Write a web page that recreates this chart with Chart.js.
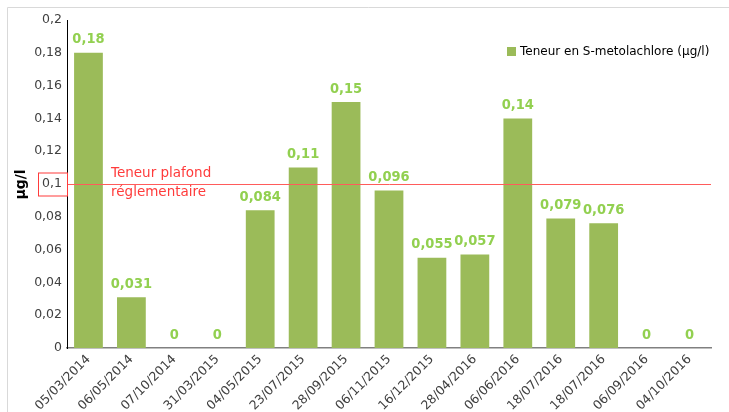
<!DOCTYPE html>
<html><head><meta charset="utf-8">
<script src="https://cdn.jsdelivr.net/npm/chart.js@4"></script>
<style>html,body{margin:0;padding:0;background:#fff;}#wrap{width:729px;height:412px;position:relative;}</style>
</head><body><div id="wrap"><canvas id="c" width="729" height="412"></canvas></div>
<script>
const categories = ["05/03/2014","06/05/2014","07/10/2014","31/03/2015","04/05/2015","23/07/2015","28/09/2015","06/11/2015","16/12/2015","28/04/2016","06/06/2016","18/07/2016","18/07/2016","06/09/2016","04/10/2016"];
const values = [0.18,0.031,0,0,0.084,0.11,0.15,0.096,0.055,0.057,0.14,0.079,0.076,0,0];
const seriesName = "Teneur en S-metolachlore (µg/l)";
const limitValue = 0.1;
const limitLabel = ["Teneur plafond","réglementaire"];
const yTitle = "µg/l";

const FONT = "DejaVu Sans, Verdana, sans-serif";
const FONT_C = "'DejaVu Sans Condensed', 'DejaVu Sans', sans-serif";
const fmt = v => String(v).replace('.', ',');

const overlay = {
  id: 'overlay',
  afterDatasetsDraw(chart) {
    const ctx = chart.ctx, x = chart.scales.x, y = chart.scales.y, a = chart.chartArea;
    ctx.save();
    // border
    ctx.strokeStyle = '#d9d9d9'; ctx.lineWidth = 1;
    ctx.beginPath(); ctx.moveTo(7.5, 412); ctx.lineTo(7.5, 7.5); ctx.lineTo(729, 7.5); ctx.stroke();
    // data labels
    ctx.fillStyle = '#92D050';
    ctx.font = 'bold 14.5px ' + FONT_C;
    ctx.textAlign = 'center'; ctx.textBaseline = 'bottom';
    const meta = chart.getDatasetMeta(0);
    meta.data.forEach((bar, i) => {
      ctx.fillText(fmt(values[i]), bar.x, bar.y - 6);
    });
    // limit line
    const ly = Math.round(y.getPixelForValue(limitValue)) + 0.5;
    ctx.strokeStyle = '#FF5B5B'; ctx.lineWidth = 1;
    ctx.beginPath(); ctx.moveTo(a.left + 1, ly); ctx.lineTo(a.right, ly); ctx.stroke();
    // box around tick
    ctx.strokeStyle = '#FF3B3B';
    ctx.strokeRect(38.5, ly - 11.5, 29, 23);
    // annotation
    ctx.fillStyle = '#FF3B3B';
    ctx.font = '13.5px ' + FONT;
    ctx.textAlign = 'left'; ctx.textBaseline = 'middle';
    ctx.fillText(limitLabel[0], 111, ly - 11);
    ctx.fillText(limitLabel[1], 111, ly + 8);
    // y title
    ctx.save();
    ctx.translate(21, ly); ctx.rotate(-Math.PI / 2);
    ctx.fillStyle = '#000'; ctx.font = 'bold 14px ' + FONT;
    ctx.textAlign = 'center'; ctx.textBaseline = 'middle';
    ctx.fillText(yTitle, 0, 0);
    ctx.restore();
    // legend
    ctx.fillStyle = '#9BBB59';
    ctx.fillRect(507, 47, 9, 9);
    ctx.fillStyle = '#000'; ctx.font = '12px ' + FONT;
    ctx.textAlign = 'left'; ctx.textBaseline = 'middle';
    ctx.fillText(seriesName, 520, 52);
    ctx.restore();
  }
};

new Chart(document.getElementById('c'), {
  type: 'bar',
  data: { labels: categories, datasets: [{ label: seriesName, data: values, backgroundColor: '#9BBB59', barPercentage: 0.67, categoryPercentage: 1 }] },
  options: {
    responsive: false, animation: false, devicePixelRatio: 1,
    layout: { padding: { left: 10, top: 20, right: 18, bottom: 0 } },
    plugins: { legend: { display: false }, tooltip: { enabled: false } },
    scales: {
      x: {
        grid: { display: false, drawTicks: false },
        border: { color: '#808080', width: 1.5 },
        ticks: { maxRotation: 45, minRotation: 45, color: '#404040', font: { family: FONT, size: 12.5 }, padding: 4, autoSkip: false },
        afterFit(s) { s.height = 64; }
      },
      y: {
        min: 0, max: 0.2,
        grid: { display: false, drawTicks: false },
        border: { color: '#000', width: 1 },
        ticks: { stepSize: 0.02, color: '#404040', font: { family: FONT, size: 12.5 }, padding: 5, callback: v => fmt(Math.round(v * 100) / 100) },
        afterFit(s) { s.width = 57; }
      }
    }
  },
  plugins: [overlay]
});
</script></body></html>
